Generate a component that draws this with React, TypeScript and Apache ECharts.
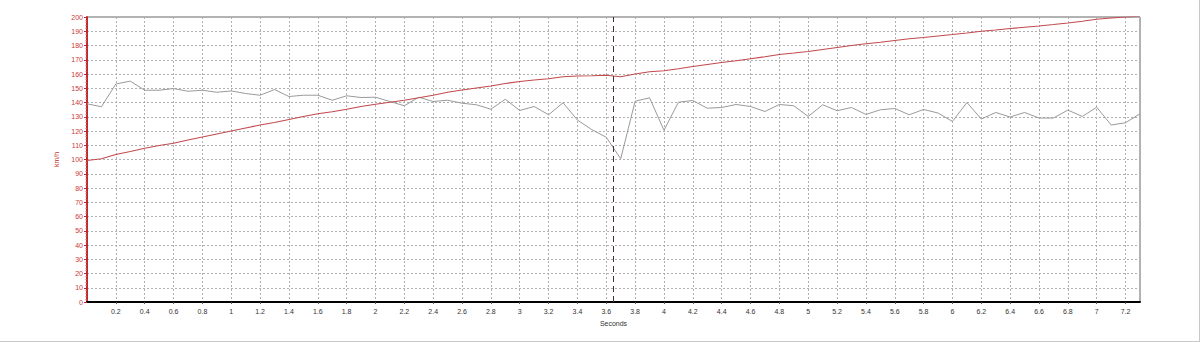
import React, { useEffect, useRef } from "react";
import * as echarts from "echarts";

const times = [
  0, 0.1, 0.2, 0.3, 0.4, 0.5, 0.6, 0.7, 0.8, 0.9,
  1, 1.1, 1.2, 1.3, 1.4, 1.5, 1.6, 1.7, 1.8, 1.9,
  2, 2.1, 2.2, 2.3, 2.4, 2.5, 2.6, 2.7, 2.8, 2.9,
  3, 3.1, 3.2, 3.3, 3.4, 3.5, 3.6, 3.7, 3.8, 3.9,
  4, 4.1, 4.2, 4.3, 4.4, 4.5, 4.6, 4.7, 4.8, 4.9,
  5, 5.1, 5.2, 5.3, 5.4, 5.5, 5.6, 5.7, 5.8, 5.9,
  6, 6.1, 6.2, 6.3, 6.4, 6.5, 6.6, 6.7, 6.8, 6.9,
  7, 7.1, 7.2, 7.3,
];

const speedRed = [
  99.3, 100.5, 103.5, 105.6, 107.9, 109.8, 111.4, 113.7, 115.8, 117.9,
  120, 122.1, 124.2, 126, 128.1, 130.2, 132.1, 133.5, 135.3, 137.2,
  138.8, 140.2, 141.6, 143.3, 145.1, 147.2, 148.8, 150.2, 151.6, 153.3,
  154.7, 155.8, 156.7, 158.1, 158.6, 158.8, 159.1, 158.1, 160, 161.6,
  162.3, 163.7, 165.3, 166.7, 168.1, 169.3, 170.7, 172.1, 173.7, 174.7,
  175.8, 177.2, 178.6, 180, 181.2, 182.3, 183.5, 184.7, 185.6, 186.7,
  187.7, 188.8, 190, 190.9, 191.9, 192.8, 193.7, 194.7, 195.8, 197,
  198.4, 199.3, 200, 200.5,
];

const speedGray = [
  139.1, 137, 153, 155, 148.6, 148.6, 149.8, 147.9, 148.6, 147.2,
  148.1, 146.3, 145.1, 149.1, 144.2, 145.1, 145.1, 141.6, 144.7, 143.5,
  143.7, 140.7, 137.7, 143.7, 140.7, 141.6, 139.5, 138.4, 135.3, 142.3,
  134.4, 137.2, 131.4, 139.8, 127.7, 120.9, 115.6, 100.5, 140.9, 143.3,
  120.5, 140.2, 141.4, 136, 136.5, 138.6, 137.2, 133.7, 138.6, 137.7,
  130.2, 138.4, 134.2, 136.5, 131.6, 134.9, 135.8, 131.4, 135.1, 132.6,
  126.7, 140, 128.4, 133, 129.8, 133, 129.1, 129.1, 134.7, 130.2,
  136.7, 124.2, 125.8, 132.1,
];

const cursorTime = 3.65;
const xMin = 0;
const xMax = 7.3;
const xStep = 0.2;
const yMin = 0;
const yMax = 200;
const yStep = 10;

const FONT = "Liberation Sans, Arial, sans-serif";

export default function App() {
  const ref = useRef<HTMLDivElement>(null);

  useEffect(() => {
    if (!ref.current) return;
    const chart = echarts.init(ref.current, undefined, { renderer: "svg" });
    const grayData = times.map((t, i) => [t, speedGray[i]]);
    const redData = times.map((t, i) => [t, speedRed[i]]);

    chart.setOption({
      animation: false,
      backgroundColor: "#ffffff",
      grid: {
        left: 87,
        right: 60,
        top: 17,
        bottom: 40,
        show: true,
        borderColor: "#666666",
        borderWidth: 1,
        backgroundColor: "transparent",
      },
      xAxis: {
        type: "value",
        min: xMin,
        max: xMax,
        interval: xStep,
        name: "Seconds",
        nameLocation: "middle",
        nameGap: 13,
        nameTextStyle: { fontFamily: FONT, fontSize: 7, color: "#333333" },
        axisLine: { show: true, lineStyle: { color: "#000000", width: 2 } },
        axisTick: { show: true, length: 2, lineStyle: { color: "#555555" } },
        minorTick: { show: false },
        axisLabel: {
          fontFamily: FONT,
          fontSize: 7,
          color: "#333333",
          margin: 6,
          showMinLabel: false,
          showMaxLabel: false,
          formatter: (v: number) => (v === 0 ? "" : String(Number(v.toFixed(1)))),
        },
        splitLine: {
          show: true,
          lineStyle: { color: "#b0b0b0", type: [2, 2], width: 1 },
        },
      },
      yAxis: {
        type: "value",
        min: yMin,
        max: yMax,
        interval: yStep,
        name: "km/h",
        nameLocation: "middle",
        nameGap: 22,
        nameRotate: 90,
        nameTextStyle: { fontFamily: FONT, fontSize: 7, color: "#c03030" },
        axisLine: { show: true, lineStyle: { color: "#c0282d", width: 2 } },
        axisTick: { show: true, length: 3, lineStyle: { color: "#c0282d" } },
        minorTick: { show: true, splitNumber: 5, length: 1.5, lineStyle: { color: "#d06060" } },
        axisLabel: {
          fontFamily: FONT,
          fontSize: 7,
          color: "#c83a3a",
          margin: 4,
        },
        splitLine: {
          show: true,
          lineStyle: { color: "#b0b0b0", type: [2, 2], width: 1 },
        },
      },
      series: [
        {
          type: "line",
          data: grayData,
          showSymbol: false,
          symbol: "none",
          lineStyle: { color: "#9a9a9a", width: 1 },
          z: 3,
          markLine: {
            silent: true,
            symbol: "none",
            label: { show: false },
            lineStyle: { color: "#4a3030", type: [6, 4], width: 1 },
            data: [{ xAxis: cursorTime }],
          },
        },
        {
          type: "line",
          data: redData,
          showSymbol: false,
          symbol: "none",
          lineStyle: { color: "#c24a4d", width: 1.1 },
          z: 4,
        },
      ],
      graphic: [
        {
          type: "line",
          shape: { x1: 1199.5, y1: 0, x2: 1199.5, y2: 342 },
          style: { stroke: "#c8c8c8", lineWidth: 1 },
          silent: true,
        },
        {
          type: "line",
          shape: { x1: 0, y1: 341.5, x2: 1200, y2: 341.5 },
          style: { stroke: "#c8c8c8", lineWidth: 1 },
          silent: true,
        },
      ],
    });

    return () => chart.dispose();
  }, []);

  return (
    <div
      ref={ref}
      style={{ position: "absolute", left: 0, top: 0, width: 1200, height: 342 }}
    />
  );
}
